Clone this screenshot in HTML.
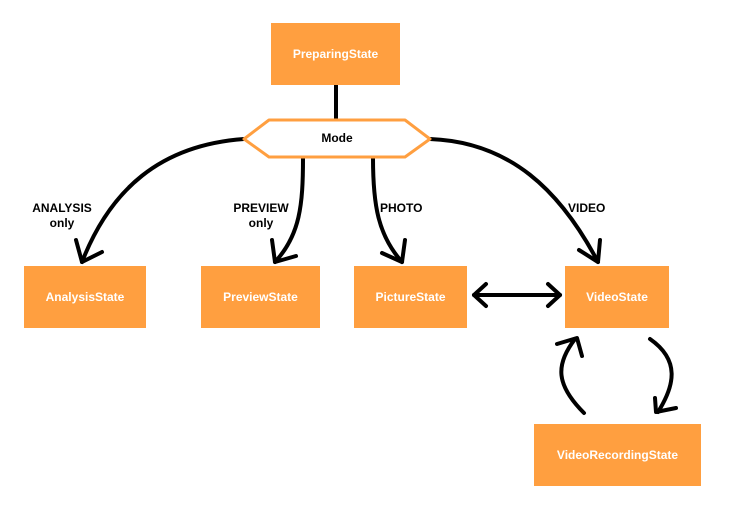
<!DOCTYPE html>
<html><head><style>
body{margin:0;background:#fff;}
.b{position:absolute;background:#FF9F40;color:#fff;font:bold 12px "Liberation Sans",sans-serif;display:flex;align-items:center;justify-content:center;}
</style></head><body>
<div style="position:relative;width:730px;height:510px;overflow:hidden">
<svg width="730" height="510" style="position:absolute;left:0;top:0" fill="none" stroke="#000" stroke-width="4" stroke-linecap="round" stroke-linejoin="round">
<line x1="336" y1="85" x2="336" y2="120"/>
<path d="M244 139 C160 145 110 190 82 262"/>
<path d="M76 240 L82 262 L102 252"/>
<path d="M303 158 C303 205 300 235 275 262"/>
<path d="M272 240 L275 262 L296 256"/>
<path d="M373 158 C373 205 378 235 402 262"/>
<path d="M382 253 L402 262 L405 240"/>
<path d="M430 139 C510 142 560 190 598 262"/>
<path d="M579 250 L598 262 L600 240"/>
<path d="M474 295 L560 295"/><path d="M486 284 L474 295 L486 306"/><path d="M548 284 L560 295 L548 306"/>
<path d="M584 413 C556 385 555 365 575 339"/><path d="M557 344 L577 338 L582 356"/>
<path d="M650 339 C680 360 675 385 658 412"/><path d="M655 398 L656 412 L676 408"/>
<polygon points="244,139 269,120 405,120 430,139 405,157 269,157" fill="#fff" stroke="#FF9F40" stroke-width="3"/>
</svg>
<div class="b" style="left:271px;top:23px;width:129px;height:62px">PreparingState</div>
<div style="position:absolute;left:269px;top:131px;width:136px;text-align:center;font:bold 12px 'Liberation Sans',sans-serif">Mode</div>
<div class="b" style="left:24px;top:266px;width:122px;height:62px">AnalysisState</div>
<div class="b" style="left:201px;top:266px;width:119px;height:62px">PreviewState</div>
<div class="b" style="left:354px;top:266px;width:113px;height:62px">PictureState</div>
<div class="b" style="left:565px;top:266px;width:104px;height:62px">VideoState</div>
<div class="b" style="left:534px;top:424px;width:167px;height:62px">VideoRecordingState</div>
<div style="position:absolute;font:bold 12px 'Liberation Sans',sans-serif;text-align:center;line-height:15px">
<div style="position:absolute;left:24px;top:201px;width:76px">ANALYSIS<br>only</div>
<div style="position:absolute;left:225px;top:201px;width:72px">PREVIEW<br>only</div>
<div style="position:absolute;left:380px;top:201px">PHOTO</div>
<div style="position:absolute;left:568px;top:201px">VIDEO</div>
</div>
</div>
</body></html>
